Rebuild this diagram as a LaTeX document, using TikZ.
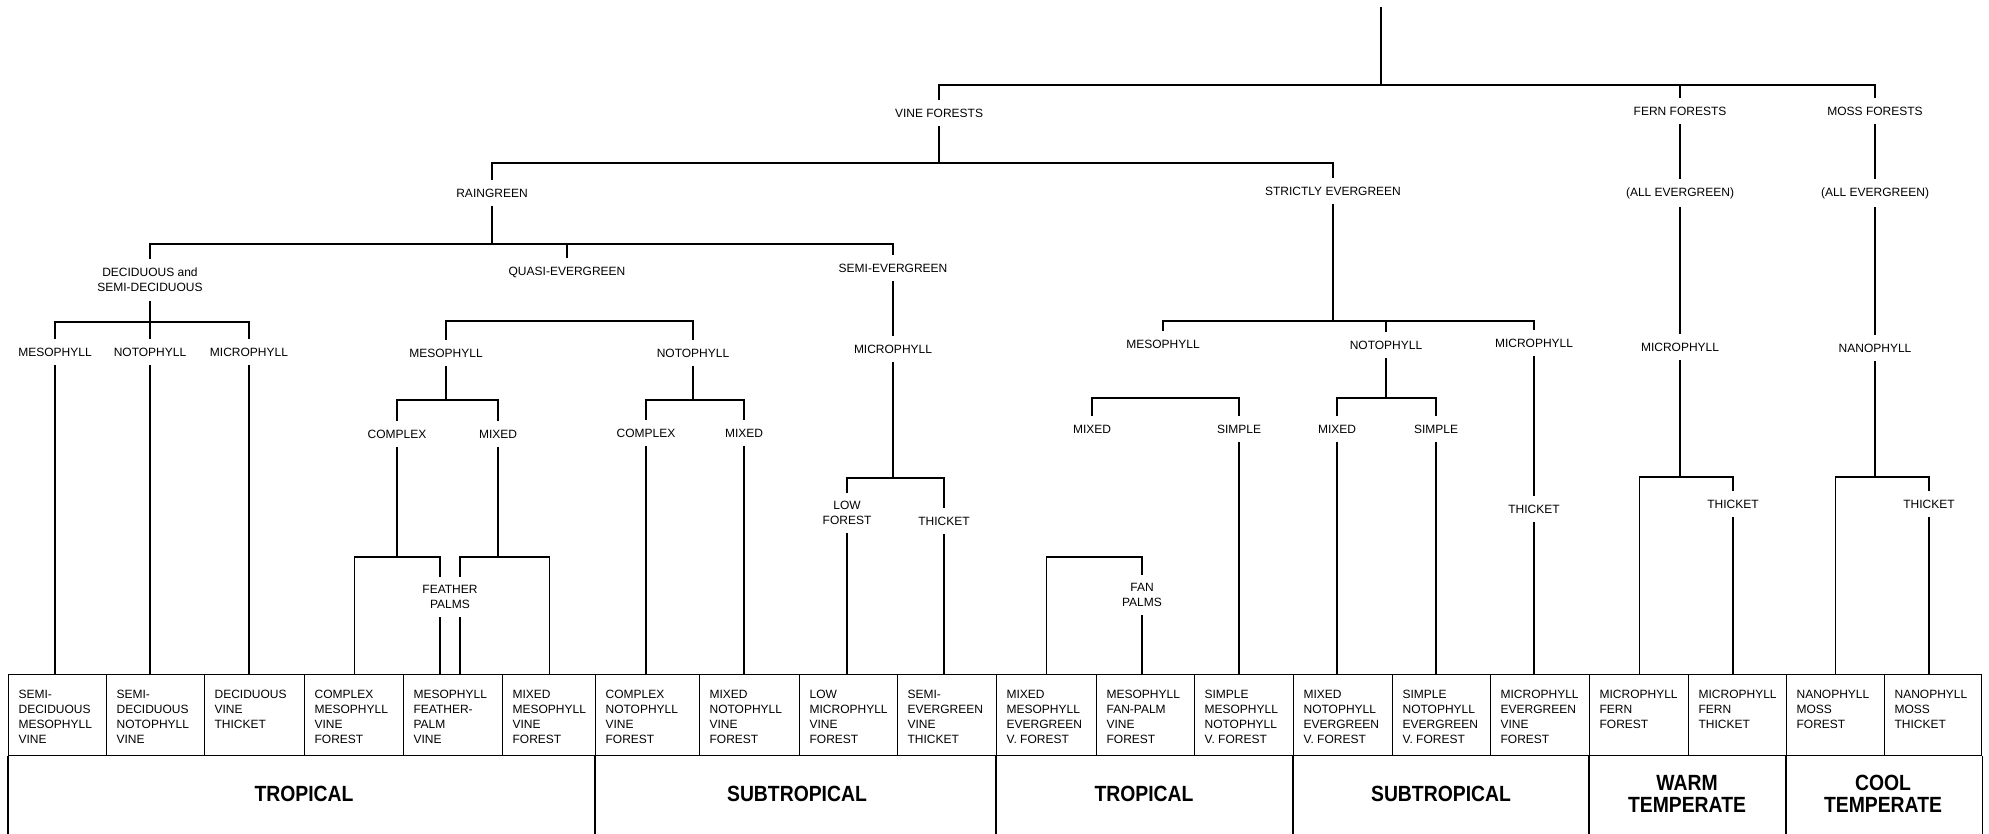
\documentclass[tikz,border=0pt]{standalone}
\usepackage{fontspec}
\setmainfont{Liberation Sans}
\newfontfamily\zonefont[FakeStretch=0.88]{Liberation Sans Bold}
\begin{document}
\begin{tikzpicture}[x=1pt,y=-1pt,line width=1.2pt,line cap=butt,line join=miter]
	\tikzset{lab/.style={font=\fontsize{12}{15}\selectfont,align=center,inner xsep=2pt,inner ysep=8pt},
		cell/.style={draw,anchor=north west,inner sep=0pt,minimum height=81pt},
		celltxt/.style={font=\fontsize{12}{15}\selectfont,align=left,anchor=north west,inner xsep=10pt,inner ysep=16pt},
		zone/.style={font=\zonefont\fontsize{22}{22}\selectfont,align=center}
	}
	\useasboundingbox (0,0) rectangle (1989,834);
	\foreach \xa/\xb/\t [count=\i] in {8/106/{SEMI-\\DECIDUOUS\\MESOPHYLL\\VINE}, 106/204/{SEMI-\\DECIDUOUS\\NOTOPHYLL\\VINE}, 204/304/{DECIDUOUS\\VINE\\THICKET}, 304/403/{COMPLEX\\MESOPHYLL\\VINE\\FOREST}, 403/502/{MESOPHYLL\\FEATHER-\\PALM\\VINE}, 502/595/{MIXED\\MESOPHYLL\\VINE\\FOREST}, 595/699/{COMPLEX\\NOTOPHYLL\\VINE\\FOREST}, 699/799/{MIXED\\NOTOPHYLL\\VINE\\FOREST}, 799/897/{LOW\\MICROPHYLL\\VINE\\FOREST}, 897/996/{SEMI-\\EVERGREEN\\VINE\\THICKET}, 996/1096/{MIXED\\MESOPHYLL\\EVERGREEN\\V. FOREST}, 1096/1194/{MESOPHYLL\\FAN-PALM\\VINE\\FOREST}, 1194/1293/{SIMPLE\\MESOPHYLL\\NOTOPHYLL\\V. FOREST}, 1293/1392/{MIXED\\NOTOPHYLL\\EVERGREEN\\V. FOREST}, 1392/1490/{SIMPLE\\NOTOPHYLL\\EVERGREEN\\V. FOREST}, 1490/1589/{MICROPHYLL\\EVERGREEN\\VINE\\FOREST}, 1589/1688/{MICROPHYLL\\FERN\\FOREST}, 1688/1786/{MICROPHYLL\\FERN\\THICKET}, 1786/1884/{NANOPHYLL\\MOSS\\FOREST}, 1884/1981/{NANOPHYLL\\MOSS\\THICKET}}
	{\node[cell,minimum width={(\xb-\xa)*1pt}] (b\i) at (\xa,674) {};
		\node[celltxt] (t\i) at (b\i.north west) {\t};}
	
	\node[lab] (vine) at (939,113) {VINE FORESTS};
	\node[lab] (fern) at (1680,111) {FERN FORESTS};
	\node[lab] (moss) at (1875,111) {MOSS FORESTS};
	\node[lab] (rain) at (492,193) {RAINGREEN};
	\node[lab] (strict) at (1333,191) {STRICTLY EVERGREEN};
	\node[lab] (fernall) at (1680,193) {(ALL EVERGREEN)};
	\node[lab] (mossall) at (1875,193) {(ALL EVERGREEN)};
	\node[lab] (decid) at (150,280) {DECIDUOUS and\\SEMI-DECIDUOUS};
	\node[lab] (quasi) at (567,272) {QUASI-EVERGREEN};
	\node[lab] (semi) at (893,268) {SEMI-EVERGREEN};
	\node[lab] (dmeso) at (55,352) {MESOPHYLL};
	\node[lab] (dnoto) at (150,352) {NOTOPHYLL};
	\node[lab] (dmicro) at (249,352) {MICROPHYLL};
	\node[lab] (qmeso) at (446,353) {MESOPHYLL};
	\node[lab] (qnoto) at (693,353) {NOTOPHYLL};
	\node[lab] (qmcomp) at (397,434) {COMPLEX};
	\node[lab] (qmmix) at (498,434) {MIXED};
	\node[lab] (qncomp) at (646,433) {COMPLEX};
	\node[lab] (qnmix) at (744,433) {MIXED};
	\node[lab] (feather) at (450,597) {FEATHER\\PALMS};
	\node[lab] (smicro) at (893,349) {MICROPHYLL};
	\node[lab] (low) at (847,513) {LOW\\FOREST};
	\node[lab] (sthick) at (944,521) {THICKET};
	\node[lab] (emeso) at (1163,344) {MESOPHYLL};
	\node[lab] (enoto) at (1386,345) {NOTOPHYLL};
	\node[lab] (emicro) at (1534,343) {MICROPHYLL};
	\node[lab] (emmix) at (1092,429) {MIXED};
	\node[lab] (emsimp) at (1239,429) {SIMPLE};
	\node[lab] (fan) at (1142,595) {FAN\\PALMS};
	\node[lab] (enmix) at (1337,429) {MIXED};
	\node[lab] (ensimp) at (1436,429) {SIMPLE};
	\node[lab] (ethick) at (1534,509) {THICKET};
	\node[lab] (fmicro) at (1680,347) {MICROPHYLL};
	\node[lab] (fthick) at (1733,504) {THICKET};
	\node[lab] (mnano) at (1875,348) {NANOPHYLL};
	\node[lab] (mthick) at (1929,504) {THICKET};
	
	\coordinate (root) at (1381,7);
	\coordinate (j0) at (1381,85);
	\draw (root) -- (j0) (vine.north) |- (j0) (fern.north) |- (j0) (moss.north) |- (j0);
	\coordinate (j1) at (939,163);
	\draw (vine.south) -- (j1) (rain.north) |- (j1) (strict.north) |- (j1);
	\draw (fern.south) -- (fernall.north) (fernall.south) -- (fmicro.north);
	\draw (moss.south) -- (mossall.north) (mossall.south) -- (mnano.north);
	\coordinate (j2) at (1680,477);
	\draw (fmicro.south) -- (j2) (b17.north) |- (j2) (fthick.north) |- (j2) (fthick.south) -- (fthick.south |- b18.north);
	\coordinate (j3) at (1875,477);
	\draw (mnano.south) -- (j3) (b19.north) |- (j3) (mthick.north) |- (j3) (mthick.south) -- (mthick.south |- b20.north);
	
	\coordinate (j4) at (492,244);
	\draw (rain.south) -- (j4) (decid.north) |- (j4) (quasi.north) |- (j4) (semi.north) |- (j4);
	\coordinate (j5) at (150,322);
	\draw (decid.south) -- (j5) (dmeso.north) |- (j5) (dnoto.north) |- (j5) (dmicro.north) |- (j5);
	\draw (dmeso.south) -- (dmeso.south |- b1.north) (dnoto.south) -- (dnoto.south |- b2.north) (dmicro.south) -- (dmicro.south |- b3.north);
	\coordinate (j6) at (567,321);
	\draw (qmeso.north) |- (j6) (qnoto.north) |- (j6);
	\coordinate (j7) at (446,400);
	\draw (qmeso.south) -- (j7) (qmcomp.north) |- (j7) (qmmix.north) |- (j7);
	\coordinate (fl) at (440,557);
	\coordinate (fr) at (460,557);
	\draw (qmcomp.south) -- (qmcomp.south |- fl) (b4.north) |- (fl) -- (feather.north -| fl) (feather.south -| fl) -- (fl |- b5.north);
	\draw (qmmix.south) -- (qmmix.south |- fr) (b6.north) |- (fr) -- (feather.north -| fr) (feather.south -| fr) -- (fr |- b5.north);
	\coordinate (j10) at (693,400);
	\draw (qnoto.south) -- (j10) (qncomp.north) |- (j10) (qnmix.north) |- (j10) (qncomp.south) -- (qncomp.south |- b7.north) (qnmix.south) -- (qnmix.south |- b8.north);
	\draw (semi.south) -- (smicro.north);
	\coordinate (j11) at (893,478);
	\draw (smicro.south) -- (j11) (low.north) |- (j11) (sthick.north) |- (j11) (low.south) -- (low.south |- b9.north) (sthick.south) -- (sthick.south |- b10.north);
	
	\coordinate (j12) at (1333,321);
	\draw (strict.south) -- (j12) (emeso.north) |- (j12) (enoto.north) |- (j12) (emicro.north) |- (j12);
	\coordinate (j13) at (1163,398);
	\draw (emmix.north) |- (j13) (emsimp.north) |- (j13) (emsimp.south) -- (emsimp.south |- b13.north);
	\coordinate (jfan) at (1142,557);
	\draw (b11.north) |- (jfan) -- (fan.north) (fan.south) -- (fan.south |- b12.north);
	\coordinate (j15) at (1386,398);
	\draw (enoto.south) -- (j15) (enmix.north) |- (j15) (ensimp.north) |- (j15) (enmix.south) -- (enmix.south |- b14.north) (ensimp.south) -- (ensimp.south |- b15.north);
	\draw (emicro.south) -- (ethick.north) (ethick.south) -- (ethick.south |- b16.north);
	
	\coordinate (floor) at (0,834);
	\draw (b1.south west) -- (b1.south west |- floor) (b7.south west) -- (b7.south west |- floor) (b11.south west) -- (b11.south west |- floor) (b14.south west) -- (b14.south west |- floor) (b17.south west) -- (b17.south west |- floor) (b19.south west) -- (b19.south west |- floor) (b20.south east) -- (b20.south east |- floor);
	\node[zone] (trop1) at (304,794) {TROPICAL};
	\node[zone] (sub1) at (797,794) {SUBTROPICAL};
	\node[zone] (trop2) at (1144,794) {TROPICAL};
	\node[zone] (sub2) at (1441,794) {SUBTROPICAL};
	\node[zone] (warm) at (1687,794) {WARM\\TEMPERATE};
	\node[zone] (cool) at (1883,794) {COOL\\TEMPERATE};
\end{tikzpicture}
\end{document}
